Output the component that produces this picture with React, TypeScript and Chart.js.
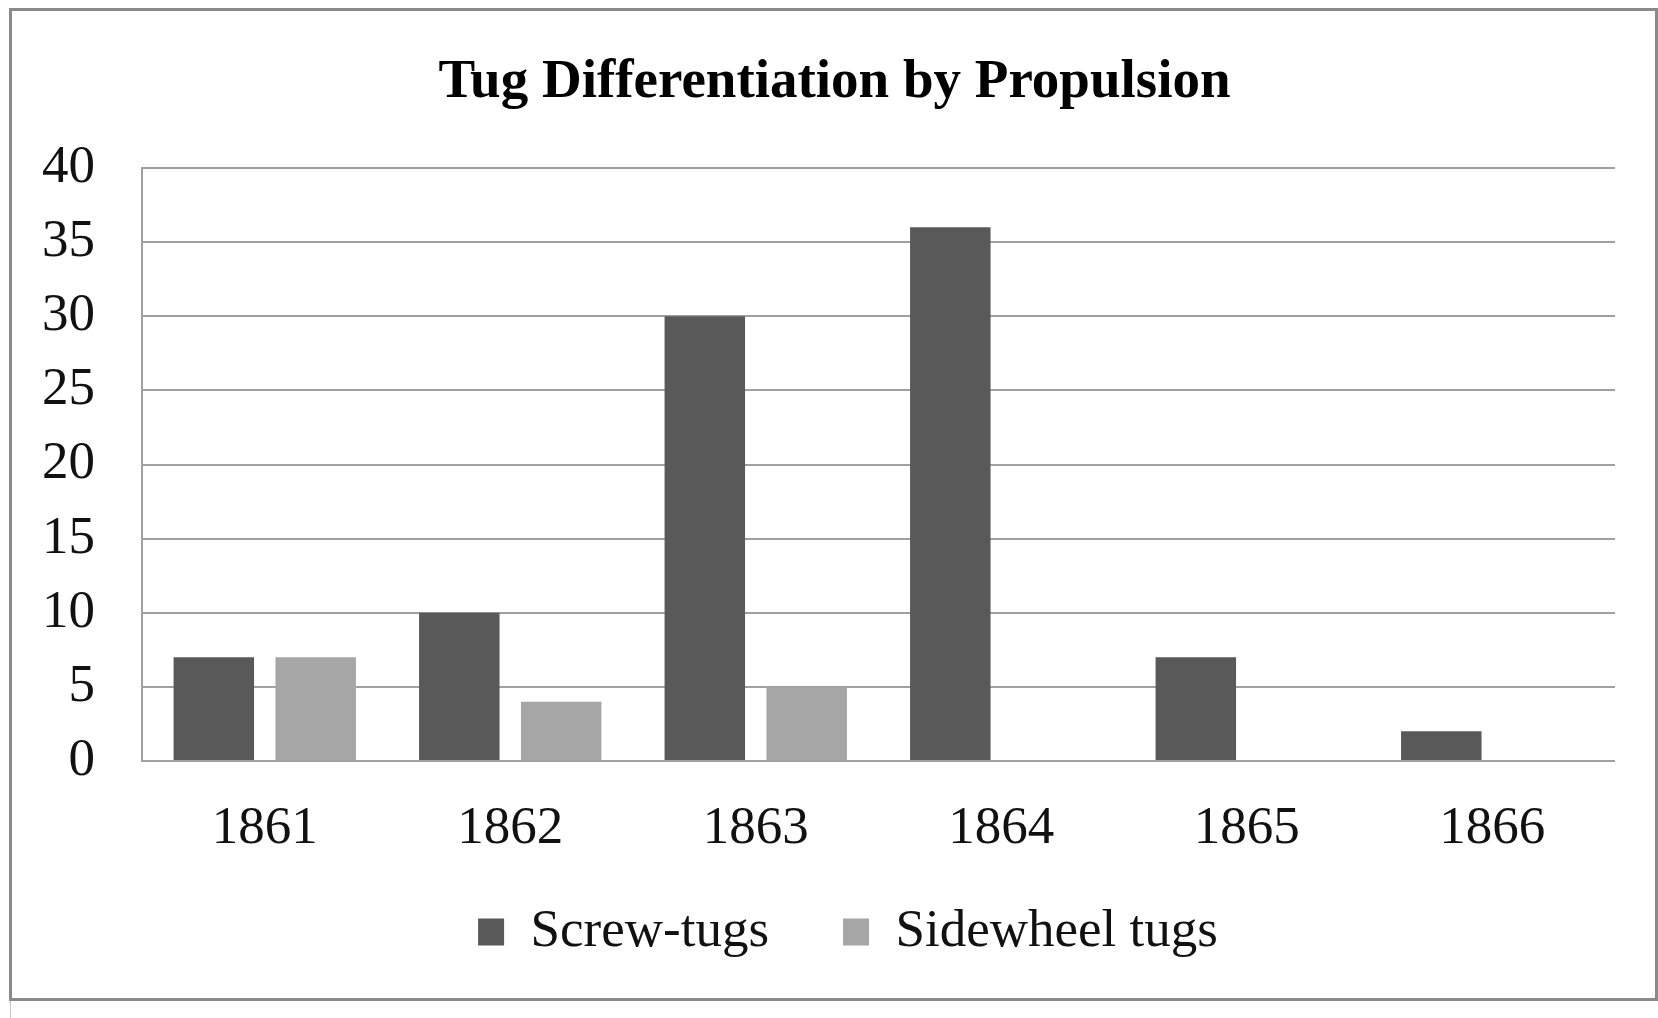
import { useEffect, useRef } from "react";
import { Chart, registerables } from "chart.js";

Chart.register(...registerables);

const chartTitle = "Tug Differentiation by Propulsion";
const categories = ["1861", "1862", "1863", "1864", "1865", "1866"];
const seriesNames = ["Screw-tugs", "Sidewheel tugs"];
const screwTugs = [7, 10, 30, 36, 7, 2];
const sidewheelTugs = [7, 4, 5, 0, 0, 0];
const yTicks = [0, 5, 10, 15, 20, 25, 30, 35, 40];

const FONT = '"Liberation Serif", "Times New Roman", serif';

// Nudges the title and legend boxes after layout so they sit where the reference has them.
const shiftBoxes = {
  id: "shiftBoxes",
  afterLayout(chart: any) {
    const t = chart.titleBlock;
    if (t) {
      t.left += 27;
      t.right += 27;
    }
    const l = chart.legend;
    if (l) {
      l.left += 40.5;
      l.right += 40.5;
      l.top -= 65;
      l.bottom -= 65;
    }
  },
};

export default function App() {
  const ref = useRef<HTMLCanvasElement>(null);

  useEffect(() => {
    if (!ref.current) return;
    const chart = new Chart(ref.current, {
      type: "bar",
      data: {
        labels: categories,
        datasets: [
          {
            label: seriesNames[0],
            data: screwTugs,
            backgroundColor: "#595959",
            borderWidth: 0,
            categoryPercentage: 0.83,
            barPercentage: 0.79,
          },
          {
            label: seriesNames[1],
            data: sidewheelTugs,
            backgroundColor: "#a6a6a6",
            borderWidth: 0,
            categoryPercentage: 0.83,
            barPercentage: 0.79,
          },
        ],
      },
      plugins: [shiftBoxes],
      options: {
        animation: false,
        responsive: false,
        devicePixelRatio: 1,
        layout: { padding: { left: 0, right: 43, top: 0, bottom: -15.6 } },
        plugins: {
          title: {
            display: true,
            text: chartTitle,
            color: "#000",
            font: { family: FONT, size: 55, weight: "bold", lineHeight: 1.2 },
            padding: { top: 49.5, bottom: 52.5 },
          },
          legend: {
            position: "bottom",
            labels: {
              color: "#111",
              font: { family: FONT, size: 53 },
              boxWidth: 26,
              boxHeight: 27,
              padding: 74,
            },
          },
          tooltip: { enabled: false },
        },
        scales: {
          x: {
            grid: { display: false, drawTicks: false },
            border: { display: false },
            ticks: {
              color: "#111",
              font: { family: FONT, size: 53, lineHeight: 1.2 },
              padding: 36,
              maxRotation: 0,
              autoSkip: false,
            },
          },
          y: {
            min: 0,
            max: 40,
            ticks: {
              color: "#111",
              font: { family: FONT, size: 53, lineHeight: 1.2 },
              padding: 47,
            },
            afterBuildTicks: (s: any) => {
              s.ticks = yTicks.map((v) => ({ value: v }));
            },
            grid: { color: "#a0a0a0", lineWidth: 2, drawTicks: false },
            border: { display: true, color: "#a0a0a0", width: 2 },
            afterFit: (s: any) => {
              s.width = 142;
            },
          },
        },
      },
    });
    return () => chart.destroy();
  }, []);

  return (
    <div
      style={{
        position: "fixed",
        left: 0,
        top: 0,
        width: 1658,
        height: 1018,
        overflow: "hidden",
        background: "#fff",
      }}
    >
      <canvas
        ref={ref}
        width={1658}
        height={1018}
        style={{ position: "absolute", left: 0, top: 0, width: 1658, height: 1018 }}
      />
      <div
        style={{
          position: "absolute",
          left: 9,
          top: 8,
          width: 1649,
          height: 993,
          boxSizing: "border-box",
          border: "3px solid #8a8a8a",
          pointerEvents: "none",
        }}
      />
      <div
        style={{
          position: "absolute",
          left: 10,
          top: 1001,
          width: 1,
          height: 17,
          background: "#c8c8c8",
        }}
      />
    </div>
  );
}
